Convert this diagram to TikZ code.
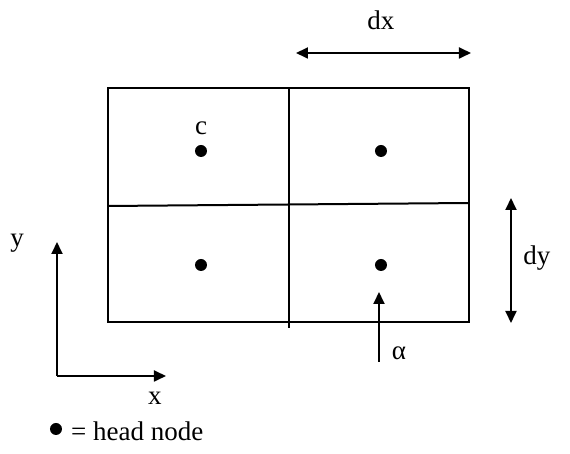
\documentclass[tikz,border=0pt]{standalone}
\usepackage{fontspec}
\setmainfont{Liberation Serif}
\usetikzlibrary{arrows.meta}

\begin{document}
\begin{tikzpicture}[x=0.5pt, y=-0.5pt, every node/.style={font=\fontsize{13.5}{16}\selectfont}, >={Triangle[length=6pt, width=5.5pt]}, hn/.style={circle, fill=black, minimum size=6pt, inner sep=0pt}, ar/.style={line width=0.9pt}, ln/.style={line width=1pt}]
	\useasboundingbox (0,0) rectangle (570,454);
	% grid of cells
	\draw[ln] (108,88) rectangle (469,322);
	\draw[ln] (108,206) -- (469,203);
	\draw[ln] (289,88) -- (289,328);
	% head nodes
	\node[hn] (h1) at (201,151) {};
	\node[hn] (h2) at (381,151) {};
	\node[hn] (h3) at (201,265) {};
	\node[hn] (h4) at (381,265) {};
	\node (c) at (201,128) {c};
	% spacing
	\coordinate (dxL) at (296,53);
	\coordinate (dxR) at (471,53);
	\draw[ar, <->] (dxL) -- (dxR);
	\node (dx) at (381,20) {dx};
	\coordinate (dyT) at (511,198);
	\coordinate (dyB) at (511,323);
	\draw[ar, <->] (dyT) -- (dyB);
	\node (dy) at (537,258) {dy};
	% alpha
	\coordinate (aB) at (379,362);
	\coordinate (aT) at (379,292);
	\draw[ar, ->] (aB) -- (aT);
	\node (alpha) at (399,353) {α};
	% axes
	\coordinate (O) at (57,376);
	\coordinate (yT) at (57,242);
	\coordinate (xR) at (166,376);
	\draw[ar, ->] (O) -- (yT);
	\draw[ar, ->] (O) -- (xR);
	\node (y) at (17,243) {y};
	\node (x) at (155,398) {x};
	% legend
	\node[hn] (key) at (56,429) {};
	\node[anchor=west] (keytext) at (64,431) {= head node};
\end{tikzpicture}
\end{document}
